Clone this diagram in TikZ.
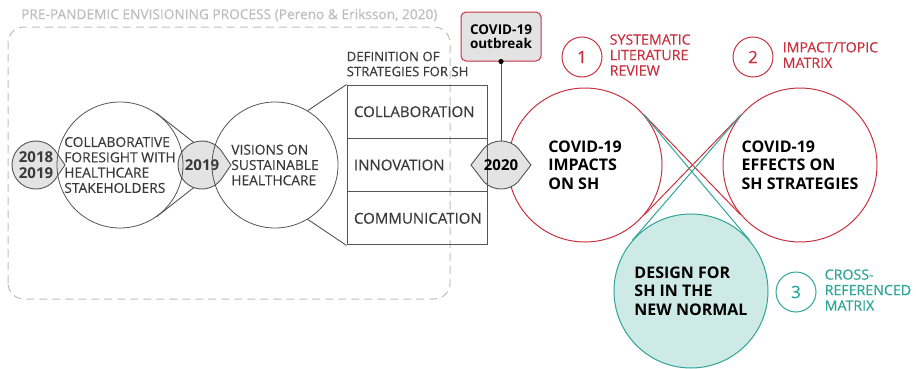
\documentclass[tikz,border=0pt]{standalone}
\usepackage{fontspec}
\setmainfont{Open Sans}
\newfontfamily\medfont{Open Sans}[FakeBold=0.35]
\usepackage{tikz}
\usetikzlibrary{positioning}
\usetikzlibrary{backgrounds}
\definecolor{ink}{HTML}{3A3A3A}
\definecolor{line}{HTML}{555555}
\definecolor{leaf}{HTML}{E3E3E3}
\definecolor{frame}{HTML}{BDBDBD}
\definecolor{redA}{HTML}{C8323F}
\definecolor{tealA}{HTML}{2EA598}
\definecolor{tealB}{HTML}{CDEAE6}
\newcommand{\yearleaf}[1]{\draw[yearshape] (#1.38) arc[start angle=38,end angle=322,radius=24pt] -- ([xshift=29pt]#1.center) -- cycle;}
\newcommand{\yearlens}[1]{\draw[yearshape] (#1.45) arc[start angle=45,end angle=135,radius=24pt] -- ([xshift=-30pt]#1.center) -- (#1.225) arc[start angle=225,end angle=315,radius=24pt] -- ([xshift=30pt]#1.center) -- cycle;}

\begin{document}
\begin{tikzpicture}[x=1pt,y=1pt,on grid,
		year/.style={circle,inner sep=0pt,outer sep=0pt,minimum size=48pt,align=center,text=ink,font=\bfseries\fontsize{15}{15.5}\selectfont},
		yearshape/.style={draw=line,fill=leaf,line width=0.9pt},
		stage/.style={circle,draw=line,line width=0.8pt,inner sep=0pt,minimum size=126pt,align=left,text=ink,font=\medfont\fontsize{13.8}{15.3}\selectfont},
		strat/.style={rectangle,draw=line,line width=1pt,inner xsep=7pt,inner ysep=0pt,text width=126pt,minimum height=53.3pt,align=left,text=ink,font=\medfont\fontsize{15}{16}\selectfont},
		note/.style={inner sep=0pt,align=left,text=ink,font=\medfont\fontsize{13.2}{15}\selectfont},
		conn/.style={draw=line,line width=0.9pt},
		covid/.style={circle,draw=redA,line width=1pt,inner sep=0pt,minimum size=154pt,align=left,font=\bfseries\fontsize{16}{18.5}\selectfont},
		newnormal/.style={circle,draw=tealA,fill=tealB,line width=1pt,inner sep=0pt,minimum size=154pt,align=left,font=\bfseries\fontsize{16}{18.5}\selectfont},
		num/.style={circle,draw=#1,line width=1pt,inner sep=0pt,minimum size=40pt,text=#1,font=\medfont\fontsize{17}{17}\selectfont},
		numlabel/.style={on grid=false,inner sep=0pt,align=left,text=#1,font=\medfont\fontsize{14.2}{15.5}\selectfont}]
		\useasboundingbox (0,0) rectangle (916,368);
		\draw[frame,line width=1pt,dash pattern=on 8pt off 5pt,rounded corners=16pt] (8,69) rectangle (450,341);
		\node[inner sep=0pt,anchor=west,text=frame,font=\medfont\fontsize{13.7}{15}\selectfont] (ttl) at (21,353) {PRE-PANDEMIC ENVISIONING PROCESS (Pereno \& Eriksson, 2020)};

		\node[stage]  (c1)   at (120,203)          {COLLABORATIVE\\FORESIGHT WITH\\HEALTHCARE\\STAKEHOLDERS};
		\node[year]   (y1)   [left=84pt of c1]     {2018\\2019};
		\node[year]   (y2)   [right=82pt of c1]    {2019};
		\node[stage]  (c2)   [right=155pt of c1]   {VISIONS ON\\SUSTAINABLE\\HEALTHCARE};
		\node[strat]  (s2)   [right=142pt of c2]   {INNOVATION};
		\node[strat]  (s1)   [above=53.3pt of s2]  {COLLABORATION};
		\node[strat]  (s3)   [below=53.3pt of s2]  {COMMUNICATION};
		\node[note]   (def)  [anchor=south west] at ([yshift=8pt]s1.north west) {DEFINITION OF\\STRATEGIES FOR SH};

		\node[year,text=black]  (y3)  [right=84pt of s2]   {2020};
		\node[rectangle,draw=redA,fill=leaf,line width=1pt,rounded corners=5pt,minimum width=80pt,minimum height=49pt,inner sep=0pt,align=center,font=\bfseries\fontsize{13.5}{14.5}\selectfont]
		              (out)  [above=128.5pt of y3] {COVID-19\\outbreak};

		\node[covid]     (r2)  at (800,203)         {COVID-19\\EFFECTS ON\\SH STRATEGIES};
		\node[newnormal] (t1)  at (691,77)          {DESIGN FOR\\SH IN THE\\NEW NORMAL};

		\node[num=redA]   (n1)  at (582,311)  {1};
		\node[num=redA]   (n2)  at (753,311)  {2};
		\node[num=tealA]  (n3)  at (796,76)   {3};
		\node[numlabel=redA]  (l1)  [right=7pt of n1,yshift=2pt]  {SYSTEMATIC\\LITERATURE\\REVIEW};
		\node[numlabel=redA]  (l2)  [right=9pt of n2,yshift=2pt]  {IMPACT/TOPIC\\MATRIX};
		\node[numlabel=tealA] (l3)  [right=8pt of n3,yshift=2pt]  {CROSS-\\REFERENCED\\MATRIX};

		\begin{pgfonlayer}{background}
		\node[covid]     (r1)  [right=84pt of y3]   {COVID-19\\IMPACTS\\ON SH};
		\yearleaf{y1}
		\yearleaf{y2}
		\yearlens{y3}
		\end{pgfonlayer}

		\path[conn]
		(c1.55) edge (y2.110)
		(c1.-55) edge (y2.-110)
		(c2.59) edge (s1.north west)
		(c2.-59) edge (s3.south west)
		(out.south) edge (y3.north);
		\fill (out.south) circle (2.6pt);

		\path[draw=redA,line width=1pt]
		(r1.40) edge (r2.220)
		(r1.-40) edge (r2.140);
		\path[draw=tealA,line width=1pt]
		(r1.41) edge (t1.41)
		(r2.139) edge (t1.139);
\end{tikzpicture}
\end{document}
